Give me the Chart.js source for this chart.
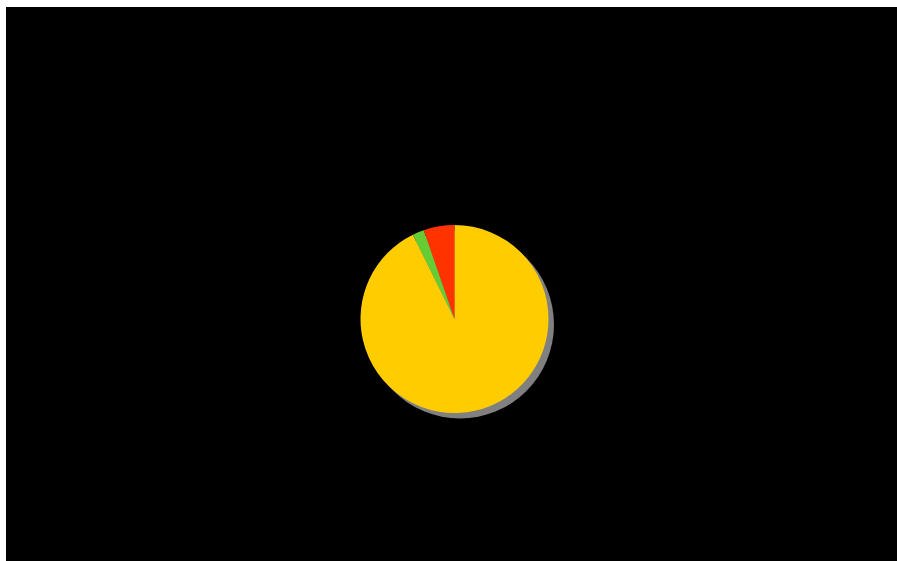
<!DOCTYPE html>
<html>
<head>
<meta charset="utf-8">
<script src="https://cdn.jsdelivr.net/npm/chart.js@4/dist/chart.umd.min.js"></script>
<style>
  html, body { margin: 0; padding: 0; background: #fff; }
  .wrap { position: absolute; left: 6px; top: 7px; width: 891px; height: 554px; }
</style>
</head>
<body>
<div class="wrap"><canvas id="pieChart"></canvas></div>
<script>
const categories = ['A', 'B', 'C'];
const values = [92.7, 2.0, 5.3];
const colors = ['#FFCC00', '#66CC33', '#FF3300'];

// black plot background
const bgPlugin = {
  id: 'bg',
  beforeDraw(chart) {
    const c = chart.ctx;
    c.save();
    c.fillStyle = '#000';
    c.fillRect(0, 0, chart.width, chart.height);
    c.restore();
  }
};

// flat grey shadow behind the whole pie
const shadowPlugin = {
  id: 'pieShadow',
  beforeDatasetsDraw(chart) {
    const arc = chart.getDatasetMeta(0).data[0];
    if (!arc) return;
    const c = chart.ctx;
    c.save();
    c.fillStyle = '#808080';
    c.beginPath();
    c.arc(arc.x + 5.5, arc.y + 5.5, arc.outerRadius, 0, Math.PI * 2);
    c.fill();
    c.restore();
  }
};

new Chart(document.getElementById('pieChart'), {
  type: 'pie',
  data: {
    labels: categories,
    datasets: [{
      data: values,
      backgroundColor: colors,
      borderWidth: 0
    }]
  },
  options: {
    responsive: true,
    maintainAspectRatio: false,
    animation: false,
    radius: 94,
    layout: { padding: { top: 70, left: 6, right: 0, bottom: 0 } },
    plugins: {
      legend: { display: false },
      tooltip: { enabled: false }
    }
  },
  plugins: [bgPlugin, shadowPlugin]
});
</script>
</body>
</html>
